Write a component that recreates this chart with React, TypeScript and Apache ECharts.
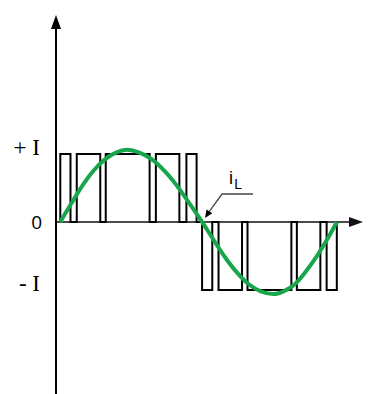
import React, { useEffect, useRef } from "react";
import * as echarts from "echarts";

// Switching pulses (x in electrical degrees, level in units of I)
const pulsesPositive: [number, number][] = [[3, 16], [24, 54], [61, 117], [125, 155], [164, 177]];
const pulsesNegative: [number, number][] = [[184, 197], [205, 235], [242, 298], [305, 335], [343, 356]];
const pulseLevel = 1;

// Load current i_L
const currentX = [3, 17, 31, 45, 60, 74, 88, 104, 120, 136, 152, 168, 184, 199, 214, 229, 244, 259, 275, 288, 302, 315, 329, 343, 356];
const currentY = [0, 0.27, 0.53, 0.75, 0.92, 1.02, 1.06, 1.02, 0.92, 0.75, 0.53, 0.27, 0, -0.27, -0.53, -0.75, -0.92, -1.02, -1.06, -1.02, -0.92, -0.75, -0.53, -0.27, 0];

// Tick labels on the vertical axis
const tickValues = [-1, 0, 1];
const tickLabels = ["- I", "0", "+ I"];
const currentLabel = "i";
const currentSub = "L";

function buildPulses(pulses: [number, number][], level: number): number[][] {
  const pts: number[][] = [];
  pulses.forEach(([a, b]) => {
    pts.push([a, 0], [a, level], [b, level], [b, 0]);
  });
  return pts;
}

export default function App() {
  const ref = useRef<HTMLDivElement>(null);
  useEffect(() => {
    if (!ref.current) return;
    const chart = echarts.init(ref.current, null, { renderer: "svg" });
    const pulseData = [...buildPulses(pulsesPositive, pulseLevel), ...buildPulses(pulsesNegative, -pulseLevel)];
    const currentData = currentX.map((x, i) => [x, currentY[i]]);
    chart.setOption({
      animation: false,
      backgroundColor: "#ffffff",
      grid: { left: 56, right: 15, top: 22, bottom: 0, containLabel: false },
      xAxis: {
        type: "value",
        min: -2.5,
        max: 380.5,
        axisLine: {
          show: true,
          onZero: true,
          symbol: ["none", "triangle"],
          symbolSize: [10, 14],
          lineStyle: { color: "#111", width: 1.6 },
        },
        axisTick: { show: false },
        axisLabel: { show: false },
        splitLine: { show: false },
      },
      yAxis: {
        type: "value",
        min: -2.53,
        max: 2.94,
        axisLine: {
          show: true,
          onZero: false,
          symbol: ["none", "triangle"],
          symbolSize: [10, 14],
          lineStyle: { color: "#000", width: 2 },
        },
        axisTick: { show: false },
        splitLine: { show: false },
        axisLabel: {
          show: true,
          customValues: tickValues,
          margin: 14,
          formatter: (v: number) => {
            const idx = tickValues.indexOf(v);
            const t = idx >= 0 ? tickLabels[idx] : "";
            return v === 0 ? `{z|${t}}` : `{s|${t}}`;
          },
          rich: {
            s: {
              fontFamily: "Liberation Serif",
              fontSize: 23,
              color: "#000",
              padding: [0, 2, 13, 0],
            },
            z: {
              fontFamily: "Open Sans",
              fontSize: 19,
              color: "#000",
            },
          },
        },
      },
      series: [
        {
          type: "line",
          data: pulseData,
          showSymbol: false,
          silent: true,
          lineStyle: { color: "#000", width: 2, join: "miter" },
          z: 2,
        },
        {
          type: "line",
          data: currentData,
          showSymbol: false,
          silent: true,
          smooth: 0.4,
          lineStyle: { color: "#17a64a", width: 4 },
          z: 3,
        },
      ],
      graphic: [
        {
          type: "polyline",
          shape: { points: [[253, 194], [222, 194], [209.4, 211.3]] },
          style: { stroke: "#444", lineWidth: 1.3, fill: "none" },
          z: 10,
        },
        {
          type: "polygon",
          shape: { points: [[205, 218], [212.3, 213.3], [206.5, 209.4]] },
          style: { fill: "#000" },
          z: 10,
        },
        {
          type: "text",
          x: 229,
          y: 177.7,
          style: { text: currentLabel, font: "18px 'Liberation Sans'", fill: "#000", verticalAlign: "middle" },
          z: 10,
        },
        {
          type: "text",
          x: 234.3,
          y: 184,
          style: { text: currentSub, font: "14px 'Liberation Sans'", fill: "#000", verticalAlign: "middle" },
          z: 10,
        },
      ],
    });
    return () => chart.dispose();
  }, []);
  return (
    <div
      ref={ref}
      style={{ position: "fixed", left: 0, top: 0, width: 371, height: 394, background: "#fff" }}
    />
  );
}
